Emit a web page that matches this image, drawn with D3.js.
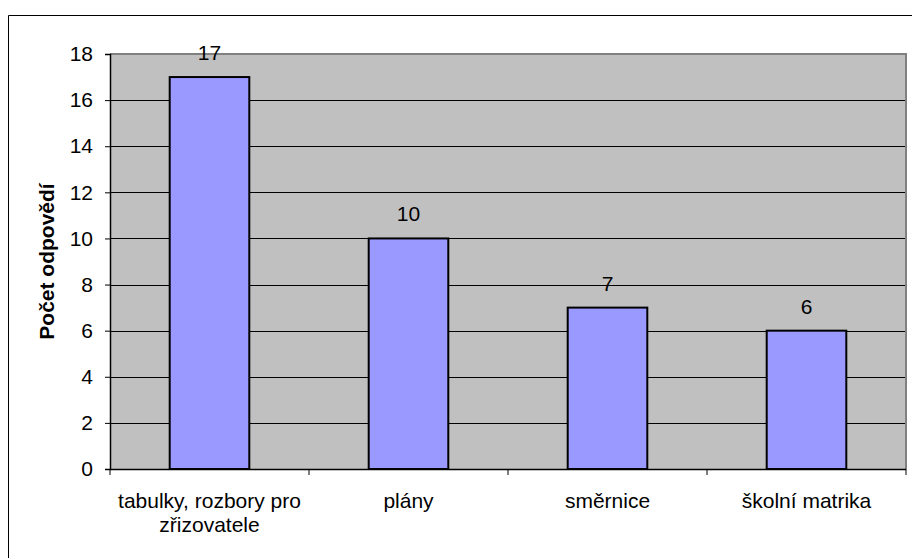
<!DOCTYPE html>
<html>
<head>
<meta charset="utf-8">
<script src="https://cdn.jsdelivr.net/npm/d3@7"></script>
<style>
  html, body { margin: 0; padding: 0; background: #fff; overflow: hidden; }
  svg { display: block; font-family: "Liberation Sans", Arial, sans-serif; }
</style>
</head>
<body>
<svg id="chart" width="912" height="558"></svg>
<script>
// Survey answers: which documents are produced
const categories = [["tabulky, rozbory pro", "zřizovatele"], ["plány"], ["směrnice"], ["školní matrika"]];
const values = [17, 10, 7, 6];
const yTicks = [0, 2, 4, 6, 8, 10, 12, 14, 16, 18];
const yTitle = "Počet odpovědí";

const FONT = 21;
const svg = d3.select("#chart");
const plot = { left: 110, right: 906, top: 54, bottom: 469 };

// outer frame: only left and top edges fall inside the view
svg.append("path")
  .attr("d", "M8.5,600 V15.5 H920")
  .attr("fill", "none").attr("stroke", "#000").attr("stroke-width", 1);

const x = d3.scaleBand()
  .domain(d3.range(categories.length))
  .range([plot.left, plot.right])
  .paddingInner(0.6).paddingOuter(0.3);

const y = d3.scaleLinear().domain([0, 18]).range([plot.bottom, plot.top]);

// plot background
svg.append("rect")
  .attr("x", plot.left).attr("y", plot.top)
  .attr("width", plot.right - plot.left).attr("height", plot.bottom - plot.top)
  .attr("fill", "#C0C0C0");

// gridlines
svg.append("g").selectAll("line")
  .data(yTicks.filter(d => d > 0 && d < 18))
  .join("line")
  .attr("x1", plot.left).attr("x2", plot.right)
  .attr("y1", d => Math.round(y(d)) + 0.5).attr("y2", d => Math.round(y(d)) + 0.5)
  .attr("stroke", "#000").attr("stroke-width", 1);

// plot frame (top and right in grey)
svg.append("path")
  .attr("d", `M${plot.left},${plot.top} H${plot.right} V${plot.bottom}`)
  .attr("fill", "none").attr("stroke", "#808080").attr("stroke-width", 2);

// bars
svg.append("g").selectAll("rect")
  .data(values)
  .join("rect")
  .attr("x", (d, i) => x(i))
  .attr("y", d => y(d))
  .attr("width", x.bandwidth())
  .attr("height", d => y(0) - y(d))
  .attr("fill", "#9999FF")
  .attr("stroke", "#000").attr("stroke-width", 2);

// value labels
svg.append("g").selectAll("text")
  .data(values)
  .join("text")
  .attr("x", (d, i) => x(i) + x.bandwidth() / 2)
  .attr("y", d => y(d) - 17)
  .attr("text-anchor", "middle")
  .attr("font-size", FONT)
  .attr("fill", "#000")
  .text(d => d);

// y axis
const yAxis = d3.axisLeft(y).tickValues(yTicks).tickSize(5).tickPadding(12);
const gy = svg.append("g")
  .attr("transform", `translate(${plot.left},0)`)
  .call(yAxis);
gy.select(".domain").attr("stroke", "#000").attr("stroke-width", 1.5);
gy.selectAll(".tick line").attr("stroke", "#000");
gy.selectAll(".tick text")
  .attr("font-size", FONT).attr("font-family", "Liberation Sans, Arial, sans-serif")
  .attr("fill", "#000");

// x axis with category boundary ticks
const bounds = d3.range(categories.length + 1).map(i => plot.left + i * (plot.right - plot.left) / categories.length);
svg.append("line")
  .attr("x1", plot.left).attr("x2", plot.right)
  .attr("y1", plot.bottom + 0.5).attr("y2", plot.bottom + 0.5)
  .attr("stroke", "#000").attr("stroke-width", 1.5);
svg.append("g").selectAll("line")
  .data(bounds)
  .join("line")
  .attr("x1", d => d).attr("x2", d => d)
  .attr("y1", plot.bottom).attr("y2", plot.bottom + 6)
  .attr("stroke", "#000");

// category labels
const catG = svg.append("g").selectAll("text")
  .data(categories)
  .join("text")
  .attr("x", (d, i) => x(i) + x.bandwidth() / 2)
  .attr("y", 508)
  .attr("text-anchor", "middle")
  .attr("font-size", FONT)
  .attr("fill", "#000");
catG.selectAll("tspan")
  .data(d => d)
  .join("tspan")
  .attr("x", function () { return d3.select(this.parentNode).attr("x"); })
  .attr("dy", (d, i) => i === 0 ? 0 : 24)
  .text(d => d);

// y axis title
svg.append("text")
  .attr("transform", `translate(54,${(plot.top + plot.bottom) / 2}) rotate(-90)`)
  .attr("text-anchor", "middle")
  .attr("font-size", FONT)
  .attr("font-weight", "bold")
  .attr("fill", "#000")
  .text(yTitle);
</script>
</body>
</html>
